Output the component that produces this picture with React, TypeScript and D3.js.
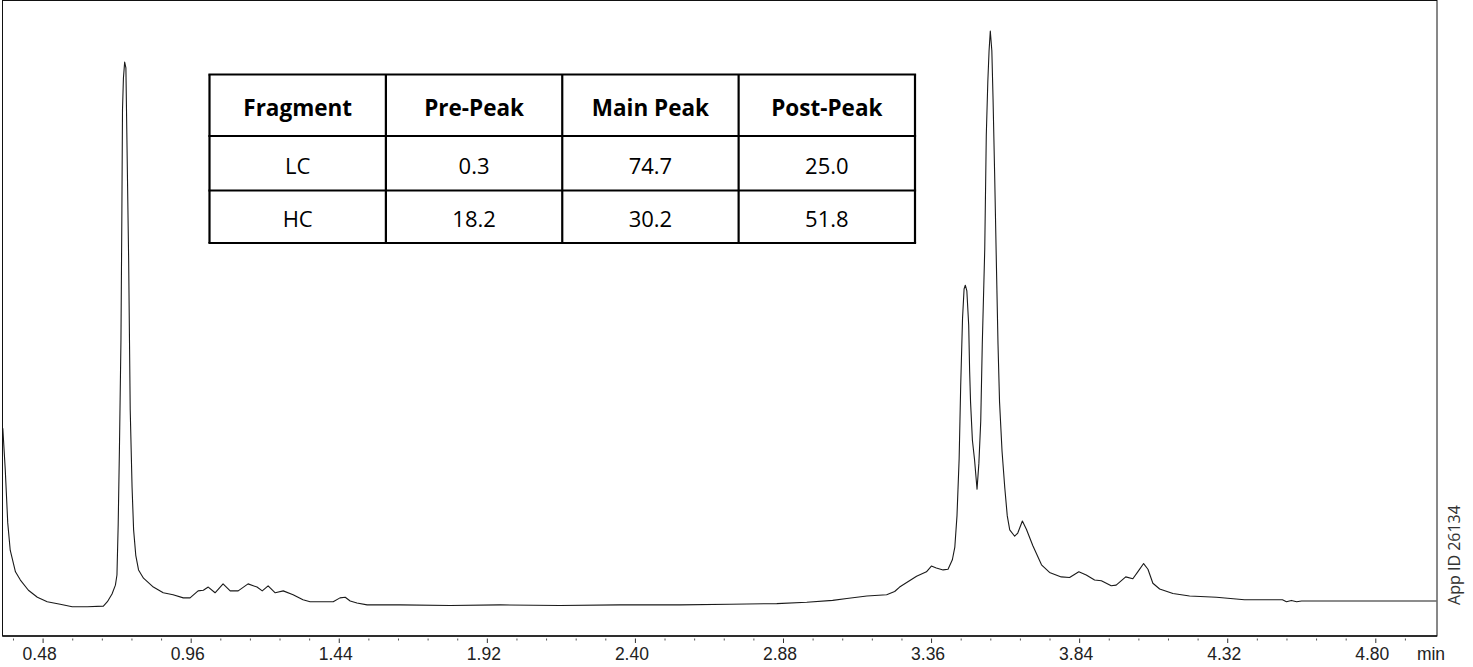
import React, { useEffect, useRef } from 'react'
import * as d3 from 'd3'

// retention time (min) and detector signal (% of full scale)
const time = [
  0.351, 0.359, 0.367, 0.375, 0.392, 0.408, 0.434, 0.463, 0.495, 0.537,
  0.576, 0.625, 0.677, 0.690, 0.705, 0.716, 0.721, 0.725, 0.729, 0.734,
  0.737, 0.739, 0.742, 0.746, 0.750, 0.753, 0.759, 0.764, 0.770, 0.775,
  0.782, 0.791, 0.807, 0.839, 0.871, 0.903, 0.936, 0.958, 0.984, 1.001,
  1.017, 1.039, 1.065, 1.088, 1.114, 1.146, 1.175, 1.192, 1.211, 1.234,
  1.260, 1.292, 1.324, 1.347, 1.380, 1.422, 1.444, 1.461, 1.477, 1.499,
  1.532, 1.639, 1.801, 1.963, 2.157, 2.351, 2.546, 2.708, 2.860, 2.957,
  3.041, 3.087, 3.152, 3.216, 3.242, 3.258, 3.313, 3.345, 3.361, 3.377,
  3.399, 3.415, 3.429, 3.437, 3.444, 3.451, 3.456, 3.462, 3.467, 3.471,
  3.476, 3.482, 3.485, 3.488, 3.494, 3.501, 3.509, 3.515, 3.521, 3.526,
  3.534, 3.539, 3.544, 3.548, 3.552, 3.557, 3.561, 3.566, 3.572, 3.577,
  3.582, 3.590, 3.599, 3.607, 3.615, 3.631, 3.641, 3.656, 3.669, 3.690,
  3.718, 3.744, 3.782, 3.809, 3.839, 3.863, 3.890, 3.912, 3.944, 3.960,
  3.991, 4.014, 4.030, 4.049, 4.063, 4.079, 4.101, 4.144, 4.198, 4.285,
  4.376, 4.499, 4.512, 4.528, 4.545, 4.561, 4.651, 4.813, 4.998,
]
const signal = [
  32.7, 26.1, 17.8, 13.5, 10.1, 8.8, 7.2, 6.1, 5.4, 5.0,
  4.6, 4.6, 4.7, 5.4, 6.6, 8.0, 9.6, 17.5, 29.3, 46.6,
  67.0, 82.8, 87.8, 90.3, 89.4, 79.2, 58.9, 35.6, 23.4, 16.7,
  12.7, 10.4, 9.1, 7.7, 6.8, 6.5, 6.0, 6.0, 7.1, 7.2,
  7.7, 6.8, 8.2, 7.1, 7.1, 8.2, 7.7, 7.1, 7.9, 6.8,
  7.1, 6.5, 5.7, 5.4, 5.4, 5.4, 6.0, 6.1, 5.5, 5.2,
  4.9, 4.9, 4.8, 4.9, 4.8, 4.9, 4.9, 5.0, 5.1, 5.3,
  5.6, 5.9, 6.3, 6.5, 7.0, 7.7, 9.4, 10.1, 11.0, 10.7,
  10.4, 10.5, 12.0, 14.0, 18.9, 27.9, 39.3, 50.0, 54.6, 55.2,
  54.3, 48.9, 41.7, 36.8, 30.8, 27.7, 23.1, 27.2, 33.8, 45.9,
  60.9, 78.8, 87.3, 92.1, 95.2, 92.1, 84.3, 72.9, 57.9, 45.9,
  36.8, 29.1, 23.3, 18.9, 16.7, 15.7, 16.2, 18.1, 16.8, 14.2,
  11.2, 10.0, 9.3, 9.2, 10.1, 9.6, 8.8, 8.7, 7.9, 8.0,
  9.3, 9.0, 10.1, 11.4, 10.5, 8.3, 7.4, 6.7, 6.3, 6.1,
  5.7, 5.7, 5.4, 5.6, 5.4, 5.5, 5.5, 5.5, 5.5,
]

const majorTicks = [0.48, 0.96, 1.44, 1.92, 2.4, 2.88, 3.36, 3.84, 4.32, 4.8]
const tickLabels = ['0.48', '0.96', '1.44', '1.92', '2.40', '2.88', '3.36', '3.84', '4.32', '4.80']
const unitLabel = 'min'
const appId = 'App ID 26134'

const tableHeader = ['Fragment', 'Pre-Peak', 'Main Peak', 'Post-Peak']
const fragments = ['LC', 'HC']
const prePeak = ['0.3', '18.2']
const mainPeak = ['74.7', '30.2']
const postPeak = ['25.0', '51.8']

const W = 1473
const H = 667
const plot = { left: 2.5, right: 1437, top: 0.5, bottom: 636 }
const table = { left: 209.5, right: 915, rows: [74.5, 136, 190.5, 243] }

function App() {
  const svgRef = useRef(null)

  useEffect(() => {
    const svg = d3.select(svgRef.current)
    svg.selectAll('*').remove()

    const x = d3.scaleLinear().domain([0.35, 5.0]).range([plot.left, plot.right])
    const y = d3.scaleLinear().domain([0, 100]).range([plot.bottom, plot.top])

    svg.append('defs').append('clipPath').attr('id', 'plot-clip')
      .append('rect')
      .attr('x', plot.left).attr('y', plot.top)
      .attr('width', plot.right - plot.left).attr('height', plot.bottom - plot.top)

    const data = time.map((t, i) => ({ t, v: signal[i] }))
    const line = d3.line<{ t: number; v: number }>()
      .x((d) => x(d.t))
      .y((d) => y(d.v))

    svg.append('path')
      .datum(data)
      .attr('clip-path', 'url(#plot-clip)')
      .attr('d', line)
      .attr('fill', 'none')
      .attr('stroke', '#1a1a1a')
      .attr('stroke-width', 1.1)
      .attr('stroke-linejoin', 'round')

    // frame
    svg.append('rect')
      .attr('x', plot.left).attr('y', plot.top)
      .attr('width', plot.right - plot.left).attr('height', plot.bottom - plot.top)
      .attr('fill', 'none')
      .attr('stroke', '#111')
      .attr('stroke-width', 1)
    svg.append('line')
      .attr('x1', plot.left).attr('x2', plot.right)
      .attr('y1', plot.bottom).attr('y2', plot.bottom)
      .attr('stroke', '#111').attr('stroke-width', 1.6)

    // minor ticks every 0.096 min
    const minor = d3.range(0, 50)
      .map((i) => +(0.384 + i * 0.096).toFixed(3))
      .filter((v) => v < 4.95 && !majorTicks.some((m) => Math.abs(m - v) < 1e-6))

    svg.append('g')
      .attr('transform', `translate(0, ${plot.bottom + 2.5})`)
      .call(d3.axisBottom(x).tickValues(minor).tickSize(2).tickFormat(() => ''))
      .call((g) => g.select('.domain').remove())
      .call((g) => g.selectAll('line').attr('stroke', '#555'))

    const major = svg.append('g')
      .attr('transform', `translate(0, ${plot.bottom + 2.5})`)
      .call(d3.axisBottom(x).tickValues(majorTicks).tickSize(4.5)
        .tickFormat((d, i) => tickLabels[i]))
    major.select('.domain').remove()
    major.attr('font-family', '"Liberation Sans", Arial, sans-serif').attr('font-size', 17.5)
    major.selectAll('line').attr('stroke', '#333')
    major.selectAll('text')
      .attr('x', -3.5)
      .attr('y', 21.5)
      .attr('dy', 0)
      .attr('fill', '#222')

    svg.append('text')
      .attr('x', 1431).attr('y', plot.bottom + 24)
      .attr('text-anchor', 'middle')
      .attr('font-family', '"Liberation Sans", Arial, sans-serif')
      .attr('font-size', 17.5)
      .attr('fill', '#222')
      .text(unitLabel)

    svg.append('text')
      .attr('transform', 'translate(1460, 555) rotate(-90)')
      .attr('text-anchor', 'middle')
      .attr('font-family', '"Open Sans", "Noto Sans", sans-serif')
      .attr('font-size', 16)
      .attr('fill', '#333')
      .text(appId)

    // results table
    const col = d3.scaleBand().domain(tableHeader).range([table.left, table.right])
    const rowEdges = table.rows
    const tg = svg.append('g')
    tg.append('rect')
      .attr('x', table.left).attr('y', rowEdges[0])
      .attr('width', table.right - table.left).attr('height', rowEdges[3] - rowEdges[0])
      .attr('fill', '#fff')

    const cells = [
      tableHeader,
      ...fragments.map((f, i) => [f, prePeak[i], mainPeak[i], postPeak[i]]),
    ]
    cells.forEach((row, r) => {
      const cy = (rowEdges[r] + rowEdges[r + 1]) / 2
      row.forEach((txt, c) => {
        tg.append('text')
          .attr('x', col(tableHeader[c]) + col.bandwidth() / 2)
          .attr('y', cy + 10.5)
          .attr('text-anchor', 'middle')
          .attr('font-family', '"Open Sans", "Noto Sans", sans-serif')
          .attr('font-size', r === 0 ? 22.5 : 22)
          .attr('font-weight', r === 0 ? 700 : 400)
          .attr('fill', '#000')
          .text(txt)
      })
    })

    rowEdges.forEach((ry) => {
      tg.append('line')
        .attr('x1', table.left - 1.1).attr('x2', table.right + 1.1)
        .attr('y1', ry).attr('y2', ry)
        .attr('stroke', '#000').attr('stroke-width', 2.2)
    })
    const colEdges = tableHeader.map((h) => col(h)).concat([table.right])
    colEdges.forEach((cx) => {
      tg.append('line')
        .attr('x1', cx).attr('x2', cx)
        .attr('y1', rowEdges[0]).attr('y2', rowEdges[3])
        .attr('stroke', '#000').attr('stroke-width', 2.2)
    })
  }, [])

  return (
    <svg
      ref={svgRef}
      width={W}
      height={H}
      style={{ position: 'absolute', left: 0, top: 0, background: '#fff' }}
    />
  )
}

export default App
